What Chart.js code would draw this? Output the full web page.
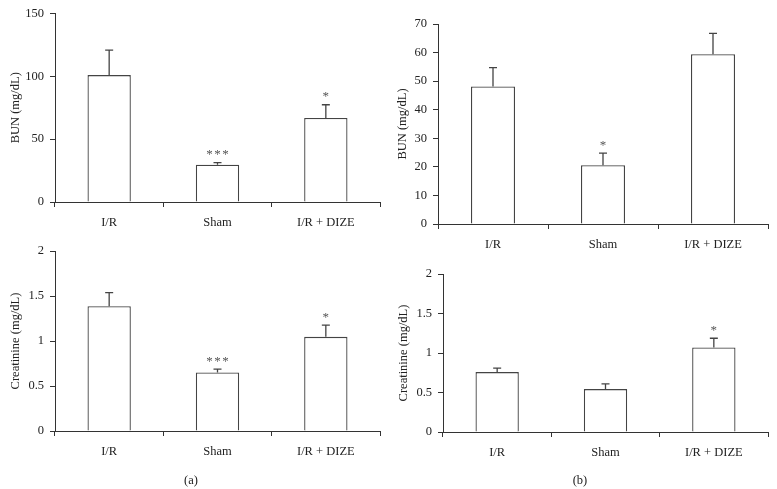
<!DOCTYPE html>
<html>
<head>
<meta charset="utf-8">
<script src="https://cdn.jsdelivr.net/npm/chart.js@4.4.0/dist/chart.umd.min.js"></script>
<style>
  body { margin: 0; background: #fff; }
  #wrap { position: relative; width: 777px; height: 489px; overflow: hidden; }
  .panel { position: absolute; }
  .sub { position: absolute; font: 12.5px 'Liberation Serif', 'DejaVu Serif', serif; color: #222;
         transform: translate(-50%, -50%); line-height: 1; }
</style>
</head>
<body>
<div id="wrap">
  <div class="panel" style="left:0px;top:0px;"><canvas id="c1" width="390" height="230"></canvas></div>
  <div class="panel" style="left:390px;top:0px;"><canvas id="c2" width="387" height="260"></canvas></div>
  <div class="panel" style="left:0px;top:230px;"><canvas id="c3" width="390" height="259"></canvas></div>
  <div class="panel" style="left:390px;top:260px;"><canvas id="c4" width="387" height="229"></canvas></div>
  <div class="sub" style="left:191px;top:480px;">(a)</div>
  <div class="sub" style="left:580px;top:480px;">(b)</div>
</div>
<script>
var categories = ['I/R', 'Sham', 'I/R + DIZE'];

// (a)
var bunA = [101, 29.7, 66.8];
var bunAErr = [19.8, 1.6, 10.6];
var bunAStars = ['', '***', '*'];
var bunATicks = [0, 50, 100, 150];

var creatA = [1.386, 0.651, 1.046];
var creatAErr = [0.152, 0.037, 0.130];
var creatAStars = ['', '***', '*'];
var creatATicks = [0, 0.5, 1, 1.5, 2];

// (b)
var bunB = [48.1, 20.6, 59.4];
var bunBErr = [6.6, 4.2, 7.3];
var bunBStars = ['', '*', ''];
var bunBTicks = [0, 10, 20, 30, 40, 50, 60, 70];

var creatB = [0.758, 0.543, 1.069];
var creatBErr = [0.05, 0.067, 0.118];
var creatBStars = ['', '', '*'];
var creatBTicks = [0, 0.5, 1, 1.5, 2];

var serif = "'Liberation Serif', 'DejaVu Serif', serif";
var axisColor = '#333';
var textColor = '#222';

// error bar (upper only) + significance stars
var errorBars = {
  id: 'errorBars',
  afterDatasetsDraw: function(chart) {
    var ctx = chart.ctx;
    var y = chart.scales.y;
    var meta = chart.getDatasetMeta(0);
    var ds = chart.data.datasets[0];
    ctx.save();
    meta.data.forEach(function(bar, i) {
      var top = y.getPixelForValue(ds.data[i] + ds.errors[i]);
      ctx.strokeStyle = '#444';
      ctx.lineWidth = 1.3;
      ctx.beginPath();
      ctx.moveTo(bar.x, bar.y);
      ctx.lineTo(bar.x, top);
      ctx.moveTo(bar.x - 4, top);
      ctx.lineTo(bar.x + 4, top);
      ctx.stroke();
      var s = ds.stars[i];
      if (s) {
        ctx.fillStyle = '#555';
        ctx.font = '13px ' + serif;
        ctx.textAlign = 'center';
        ctx.textBaseline = 'middle';
        for (var k = 0; k < s.length; k++) {
          ctx.fillText('*', bar.x + (k - (s.length - 1) / 2) * 8, top - 8);
        }
      }
    });
    ctx.restore();
  }
};

function makePanel(id, values, errs, stars, ticks, title, p) {
  return new Chart(document.getElementById(id), {
    type: 'bar',
    data: {
      labels: categories,
      datasets: [{
        data: values,
        errors: errs,
        stars: stars,
        backgroundColor: '#fff',
        borderColor: '#444',
        borderWidth: 1.3,
        barPercentage: 0.4,
        categoryPercentage: 1
      }]
    },
    options: {
      responsive: false,
      animation: false,
      devicePixelRatio: 1,
      layout: { padding: { top: p.padTop, right: p.padRight, left: 0, bottom: 0 } },
      plugins: { legend: { display: false }, tooltip: { enabled: false } },
      scales: {
        x: {
          grid: { offset: true, drawOnChartArea: false, drawTicks: true, tickLength: 5, color: axisColor },
          border: { display: true, color: axisColor, width: 1 },
          ticks: { color: textColor, font: { family: serif, size: 12.5 }, padding: 8, maxRotation: 0 },
          afterFit: function(s) { s.height = p.xH; }
        },
        y: {
          min: 0,
          max: ticks[ticks.length - 1],
          afterBuildTicks: function(s) { s.ticks = ticks.map(function(v) { return { value: v }; }); },
          grid: { drawOnChartArea: false, drawTicks: true, tickLength: 5, color: axisColor },
          border: { display: true, color: axisColor, width: 1 },
          ticks: { color: textColor, font: { family: serif, size: 12.5 }, padding: 6,
                   callback: function(v) { return String(v); } },
          title: { display: true, text: title, color: textColor,
                   font: { family: serif, size: 12.5 }, padding: { top: p.titlePad, bottom: 0 } },
          afterFit: function(s) { s.width = p.yW; }
        }
      }
    },
    plugins: [errorBars]
  });
}

makePanel('c1', bunA, bunAErr, bunAStars, bunATicks, 'BUN (mg/dL)',
  { padTop: 12, padRight: 10, yW: 55, xH: 28, titlePad: 8 });
makePanel('c2', bunB, bunBErr, bunBStars, bunBTicks, 'BUN (mg/dL)',
  { padTop: 24, padRight: 9, yW: 48, xH: 36, titlePad: 5 });
makePanel('c3', creatA, creatAErr, creatAStars, creatATicks, 'Creatinine (mg/dL)',
  { padTop: 21, padRight: 10, yW: 55, xH: 58, titlePad: 8 });
makePanel('c4', creatB, creatBErr, creatBStars, creatBTicks, 'Creatinine (mg/dL)',
  { padTop: 14, padRight: 9, yW: 53, xH: 57, titlePad: 6 });
</script>
</body>
</html>
